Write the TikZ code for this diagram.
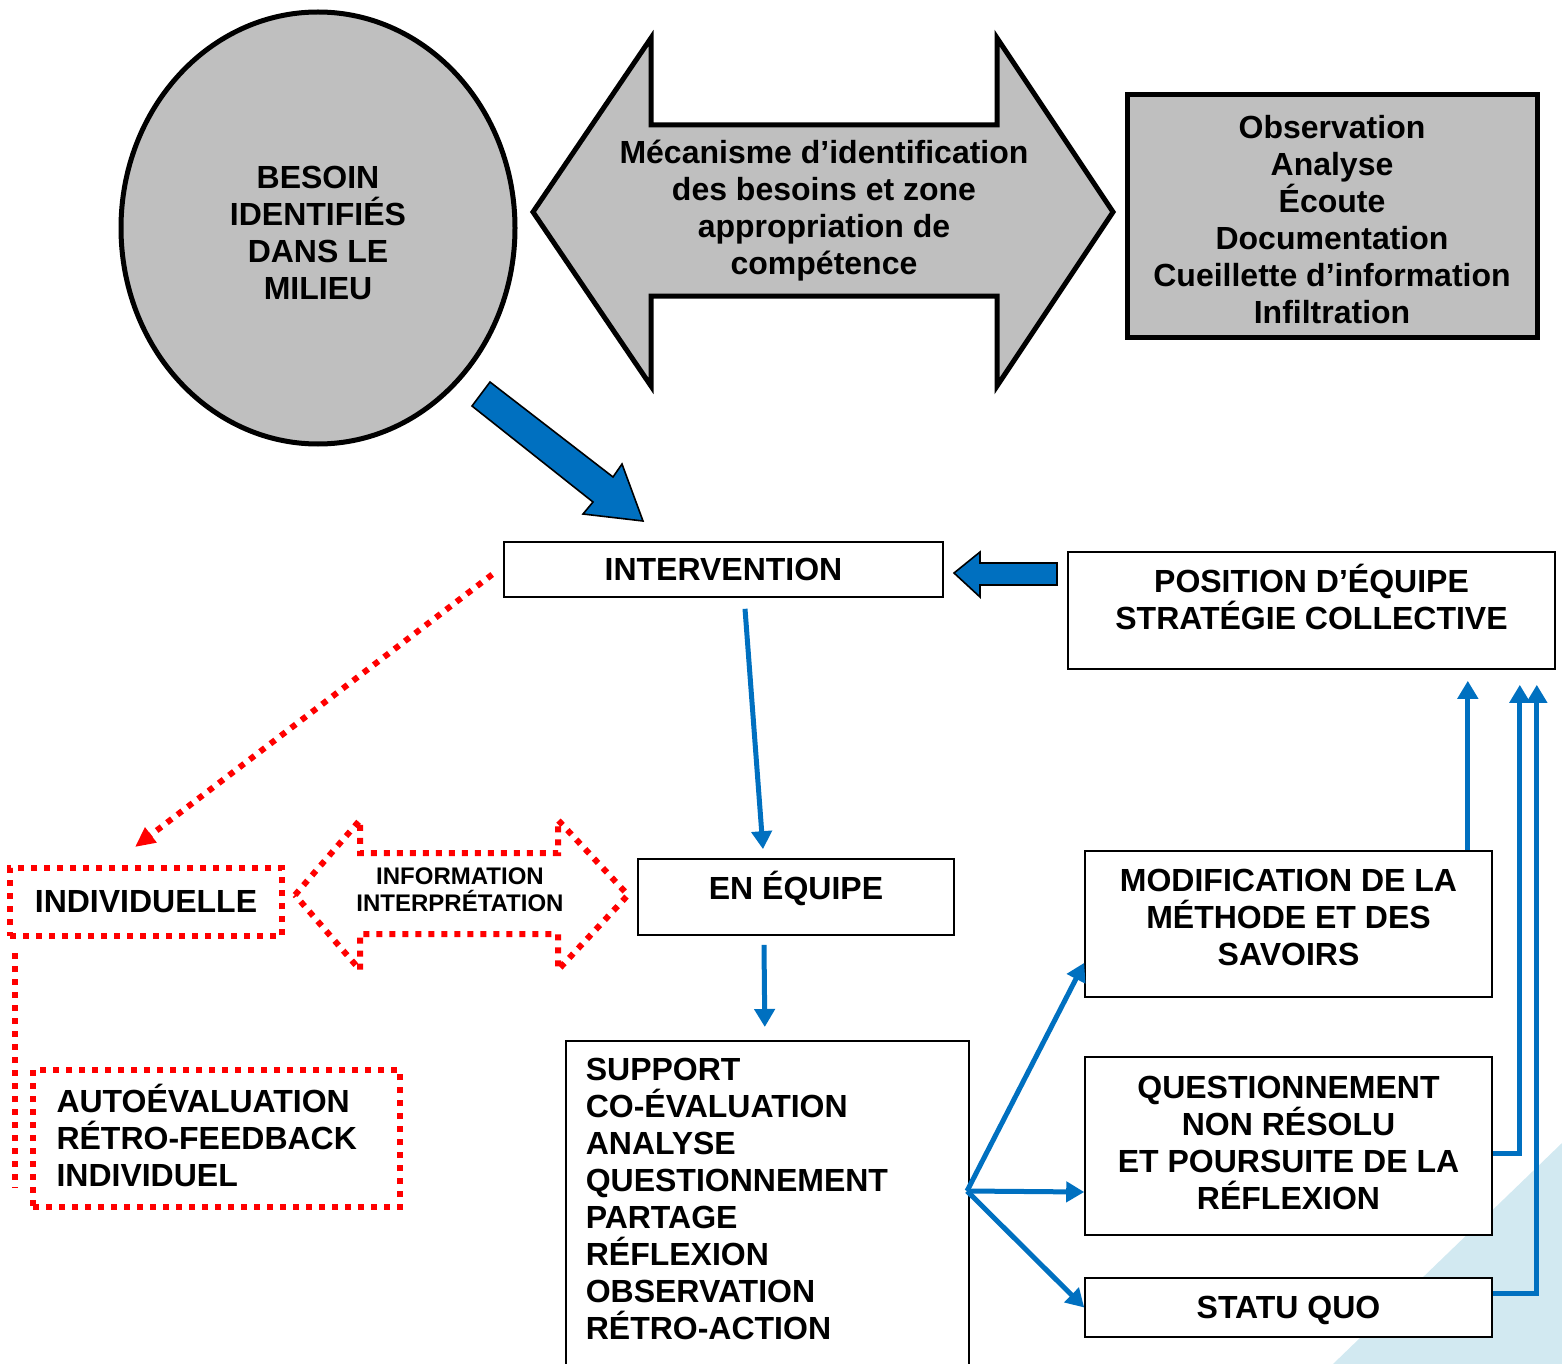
\documentclass[tikz,border=0pt]{standalone}
\usepackage{fontspec}
\setmainfont{Liberation Sans}
\usetikzlibrary{positioning,arrows.meta,calc,shapes.geometric}
\definecolor{shapegray}{RGB}{191,191,191}
\definecolor{blueacc}{RGB}{0,112,192}
\definecolor{redacc}{RGB}{255,0,0}
\definecolor{paleblue}{RGB}{210,233,241}
\newcommand{\bigfont}{\fontsize{16}{18.5}\selectfont\bfseries}
\newcommand{\smallfont}{\fontsize{12}{13.6}\selectfont\bfseries}
\tikzset{
  txt/.style    ={font=\bigfont, align=center, inner sep=0pt},
  gblk/.style   ={draw=black, fill=shapegray, line width=2.5pt},
  box/.style    ={draw=black, fill=white, line width=0.8pt, font=\bigfont,
                  align=center, inner sep=0pt},
  rdot/.style   ={draw=redacc, line width=3pt, dash pattern=on 3pt off 3.5pt},
  rbox/.style   ={rdot, font=\bigfont, inner sep=0pt},
  bar/.style    ={-{Triangle[length=9pt,width=10pt]}, draw=blueacc, line width=2.5pt},
  rar/.style    ={rdot, -{Triangle[length=10pt,width=9pt]}},
  blueblk/.style={draw=black, fill=blueacc, line width=0.8pt},
}

\begin{document}
\begin{tikzpicture}[x=0.5pt,y=-0.5pt]
\useasboundingbox (0,0) rectangle (1562,1364);
\fill[paleblue] (1562,1143) -- (1333,1364) -- (1562,1364) -- cycle;

% top row
\node[gblk, ellipse, minimum width=197pt, minimum height=216pt,
  label={[txt,yshift=-2.5pt]center:{BESOIN\\IDENTIFIÉS\\DANS LE\\MILIEU}}] (besoin) at (318,228) {};
\draw[gblk] (533,212) -- (651,38) -- (651,125) -- (997,125) -- (997,38) -- (1113,212)
  -- (997,386) -- (997,296) -- (651,296) -- (651,386) -- cycle;
\node[txt] (mecan) at (824,211)
  {Mécanisme d’identification\\des besoins et zone\\appropriation de\\compétence};
\node[gblk, rectangle, minimum width=205pt, minimum height=121pt,
  label={[txt,yshift=-2pt]center:{Observation\\Analyse\\Écoute\\Documentation\\Cueillette d’information\\Infiltration}}]
  (obs) at (1332,216) {};
\draw[blueblk] (490,382) -- (613,477) -- (622,464) -- (643,521) -- (583,514) -- (593,502)
  -- (472,406) -- cycle;

% middle row
\node[box, minimum width=219.5pt, minimum height=27.5pt] (interv) at (723.5,569.5) {INTERVENTION};
\node[box, minimum width=243.5pt, minimum height=58.5pt,
  label={[txt,yshift=7pt]center:{POSITION D’ÉQUIPE\\STRATÉGIE COLLECTIVE}}] (posit) at (1311.5,610.5) {};
\draw[blueblk] (1057,563) -- (980,563) -- (980,552) -- (954,573) -- (980,597) -- (980,585)
  -- (1057,585) -- cycle;

% individual side
\node[rbox, minimum width=136pt, minimum height=34pt] (indiv) at (146,902) {INDIVIDUELLE};
\draw[rdot] (295,895) -- (360,820) -- (360,853) -- (558,853) -- (558,820) -- (628,895)
  -- (558,970) -- (558,934) -- (360,934) -- (360,970) -- cycle;
\node[txt, font=\smallfont] (info) at (460,890) {INFORMATION\\INTERPRÉTATION};
\node[rbox, minimum width=183.5pt, minimum height=68.5pt,
  label={[txt,text width=160pt,align=left,yshift=1.5pt]center:{AUTOÉVALUATION\\RÉTRO-FEEDBACK\\INDIVIDUEL}}]
  (auto) at (216.5,1138.5) {};
\coordinate (indivend) at ($(auto.south west)+(-15,-22)$);
\draw[rar] ($(interv.west)+(-11,5)$) -- ($(indiv.north)+(-11,-18)$);
\draw[rdot] ($(indiv.south west)+(8,14)$) -- (indivend);

% team side
\node[box, minimum width=158pt, minimum height=38pt,
  label={[txt,yshift=4.5pt]center:EN ÉQUIPE}] (equipe) at (796,897) {};
\node[box, anchor=north west, minimum width=201.5pt, minimum height=165pt,
  label={[txt,text width=181.5pt,align=left,yshift=3.5pt]center:{SUPPORT\\CO-ÉVALUATION\\ANALYSE\\QUESTIONNEMENT\\PARTAGE\\RÉFLEXION\\OBSERVATION\\RÉTRO-ACTION}}]
  (supp) at (565,1040) {};
\node[box, minimum width=203.5pt, minimum height=73pt,
  label={[txt,yshift=3.5pt]center:{MODIFICATION DE LA\\MÉTHODE ET DES\\SAVOIRS}}] (modif) at (1288.5,924) {};
\node[box, minimum width=203.5pt, minimum height=89pt,
  label={[txt,yshift=1.5pt]center:{QUESTIONNEMENT\\NON RÉSOLU\\ET POURSUITE DE LA\\RÉFLEXION}}] (quest) at (1288.5,1146) {};
\node[box, minimum width=203.5pt, minimum height=29.5pt,
  label={[txt,yshift=-1.5pt]center:STATU QUO}] (statu) at (1288.5,1307.5) {};

\draw[bar] ($(interv.south)+(21.5,11)$) -- ($(equipe.north)+(-33,-9)$);
\draw[bar] ($(equipe.south)+(-32,9)$) -- ($(supp.north)+(-2.5,-13)$);
\coordinate (fan) at (967,1191);
\draw[bar] (fan) -- ($(modif.south west)+(0,-35)$);
\draw[bar] (fan) -- ($(quest.west)+(0,46)$);
\draw[bar] (fan) -- (statu.west);

% back to team position
\coordinate (ptop1) at ($(posit.south east)+(-88,11)$);
\coordinate (ptop2) at ($(posit.south east)+(-36,15)$);
\coordinate (ptop3) at ($(posit.south east)+(-19,15)$);
\draw[bar] ($(modif.north east)+(-25,0)$) -- (ptop1);
\draw[bar] ($(quest.east)+(0,7)$) -| (ptop2);
\draw[bar] ($(statu.east)+(0,-14)$) -| (ptop3);
\end{tikzpicture}
\end{document}
